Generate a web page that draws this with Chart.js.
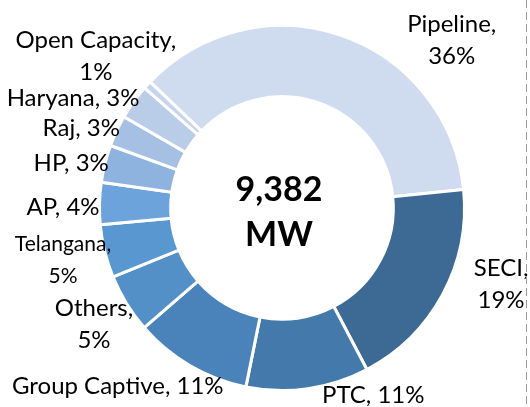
<!DOCTYPE html>
<html>
<head>
<meta charset="utf-8">
<script src="https://cdn.jsdelivr.net/npm/chart.js@4.4.1/dist/chart.umd.min.js"></script>
<style>
  html, body { margin: 0; padding: 0; background: #fff; }
  #wrap { width: 530px; height: 407px; position: relative; }
</style>
</head>
<body>
<div id="wrap"><canvas id="capacityChart"></canvas></div>
<script>
// Capacity split (MW), clockwise from the top-left
const categories = ['Pipeline', 'SECI', 'PTC', 'Group Captive', 'Others', 'Telangana', 'AP', 'HP', 'Raj', 'Haryana', 'Open Capacity'];
const capacityMW = [3400, 1775, 1020, 980, 490, 440, 350, 310, 260, 290, 67];
const shareLabels = ['36%', '19%', '11%', '11%', '5%', '5%', '4%', '3%', '3%', '3%', '1%'];
const totalLabel = ['9,382', 'MW'];

const sliceColors = ['#CFDBEE', '#3D6A94', '#4479AC', '#4A82BA', '#5390C7', '#5897D0', '#6CA3DA', '#8EB3DF', '#A6C0E4', '#B9CCE8', '#C6D5EC'];

// where each label sits, relative to the ring centre in units of the outer radius
const labelSpots = [
    { dx: 0.93, dy: -0.92, lines: 2 },
    { dx: 1.2, dy: 0.42, lines: 2 },
    { dx: 0.5, dy: 1.025, lines: 1 },
    { dx: -0.9, dy: 0.975, lines: 1 },
    { dx: -1.03, dy: 0.635, lines: 2 },
    { dx: -1.2, dy: 0.285, lines: 2, small: true },
    { dx: -1.2, dy: -0.005, lines: 1 },
    { dx: -1.155, dy: -0.245, lines: 1 },
    { dx: -1.1, dy: -0.435, lines: 1 },
    { dx: -1.145, dy: -0.6, lines: 1 },
    { dx: -1.02, dy: -0.83, lines: 2 }
];

const FONT = 'Lato, "Noto Sans", sans-serif';

// labels outside the ring + the total in the middle
const ringText = {
    id: 'ringText',
    afterDraw(chart) {
        const ctx = chart.ctx;
        const arcs = chart.getDatasetMeta(0).data;
        if (!arcs.length) return;
        const cx = arcs[0].x, cy = arcs[0].y, R = arcs[0].outerRadius;
        ctx.save();
        ctx.fillStyle = '#000';
        ctx.textAlign = 'center';
        ctx.textBaseline = 'middle';

        categories.forEach((name, i) => {
            const spot = labelSpots[i];
            const x = cx + spot.dx * R;
            const y = cy + spot.dy * R;
            ctx.font = (spot.small ? '21px ' : '24px ') + FONT;
            if (spot.lines === 2) {
                ctx.fillText(name + ',', x, y - 16);
                ctx.fillText(shareLabels[i], x, y + 16);
            } else {
                ctx.fillText(name + ', ' + shareLabels[i], x, y);
            }
        });

        ctx.font = 'bold 34px ' + FONT;
        ctx.fillText(totalLabel[0], cx - 3, cy - 18);
        ctx.fillText(totalLabel[1], cx - 3, cy + 27);

        // dashed divider on the right edge
        ctx.strokeStyle = '#9a9a9a';
        ctx.lineWidth = 1;
        ctx.setLineDash([8, 4]);
        ctx.beginPath();
        ctx.moveTo(526.5, 0);
        ctx.lineTo(526.5, chart.height);
        ctx.stroke();
        ctx.restore();
    }
};

new Chart(document.getElementById('capacityChart'), {
    type: 'doughnut',
    data: {
        labels: categories,
        datasets: [{
            data: capacityMW,
            backgroundColor: sliceColors,
            borderColor: '#ffffff',
            borderWidth: 3,
            hoverOffset: 0
        }]
    },
    options: {
        responsive: true,
        maintainAspectRatio: false,
        animation: false,
        cutout: '61%',
        rotation: -46.3,
        layout: { padding: { top: 24, bottom: 15, left: 98, right: 64 } },
        plugins: {
            legend: { display: false },
            tooltip: { enabled: false }
        }
    },
    plugins: [ringText]
});
</script>
</body>
</html>
